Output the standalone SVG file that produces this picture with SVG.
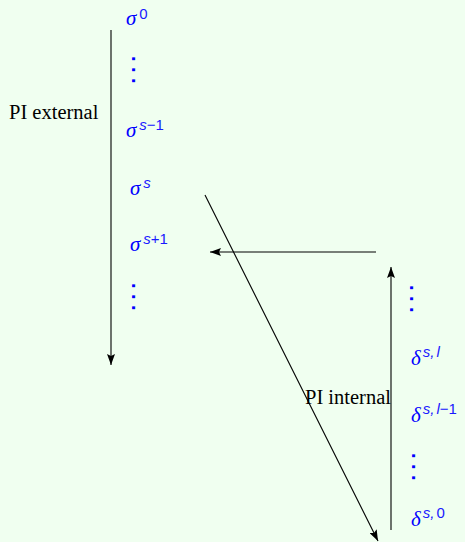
<svg xmlns="http://www.w3.org/2000/svg" width="465" height="542" viewBox="0 0 465 542">
<defs>
<marker id="ah" viewBox="0 0 11 8" refX="11" refY="4" markerWidth="11" markerHeight="8" markerUnits="userSpaceOnUse" orient="auto">
<path d="M0,0 L11,4 L0,8 L2,4 Z" fill="#000"/>
</marker>
<style>
.lbl{font-family:"Liberation Serif",serif;font-size:20.5px;fill:#000}
.m{font-family:"Liberation Serif",serif;font-style:italic;font-size:21px;fill:#0000ff}
.sup{font-family:"Liberation Sans",sans-serif;font-size:15px;font-style:normal;fill:#1a1aff}
.it{font-style:italic}
.dots{font-family:"Liberation Sans",sans-serif;font-size:20px;font-weight:bold;fill:#0000ff;writing-mode:tb;letter-spacing:5.5px}
.c{stroke:#000;stroke-width:1.1;fill:none}
</style>
</defs>
<rect width="465" height="542" fill="#f0fff0"/>
<g id="connectors">
<line class="c" x1="111" y1="30" x2="111" y2="365" marker-end="url(#ah)"/>
<line class="c" x1="205" y1="195" x2="378" y2="541" stroke-width="1" marker-end="url(#ah)"/>
<line class="c" x1="376" y1="252" x2="210" y2="252" marker-end="url(#ah)"/>
<line class="c" x1="391" y1="530" x2="391" y2="267" marker-end="url(#ah)"/>
</g>
<g id="pi-external"><text class="lbl" x="9" y="119">PI external</text></g>
<g id="pi-internal"><text class="lbl" x="305" y="404">PI internal</text></g>
<g id="sigma0"><text class="m" x="126" y="25">σ<tspan class="sup" dx="3" dy="-6">0</tspan></text></g>
<g id="vdots1"><text class="dots" x="139" y="56">...</text></g>
<g id="sigma-s-1"><text class="m" x="126" y="137">σ<tspan class="sup it" dx="3" dy="-7">s</tspan><tspan class="sup">−1</tspan></text></g>
<g id="sigma-s"><text class="m" x="130" y="195">σ<tspan class="sup it" dx="3" dy="-7">s</tspan></text></g>
<g id="sigma-s1"><text class="m" x="130" y="251">σ<tspan class="sup it" dx="3" dy="-7">s</tspan><tspan class="sup">+1</tspan></text></g>
<g id="vdots2"><text class="dots" x="139" y="283">...</text></g>
<g id="vdots3"><text class="dots" x="417" y="285">...</text></g>
<g id="delta-sl"><text class="m" x="411" y="365">δ<tspan class="sup it" dx="2" dy="-8">s,</tspan><tspan class="sup it" dx="2">l</tspan></text></g>
<g id="delta-sl-1"><text class="m" x="411" y="422">δ<tspan class="sup it" dx="2" dy="-8">s,</tspan><tspan class="sup it" dx="2">l</tspan><tspan class="sup">−1</tspan></text></g>
<g id="vdots4"><text class="dots" x="419" y="453">...</text></g>
<g id="delta-s0"><text class="m" x="411" y="526">δ<tspan class="sup it" dx="2" dy="-8">s,</tspan><tspan class="sup" dx="2">0</tspan></text></g>
</svg>
